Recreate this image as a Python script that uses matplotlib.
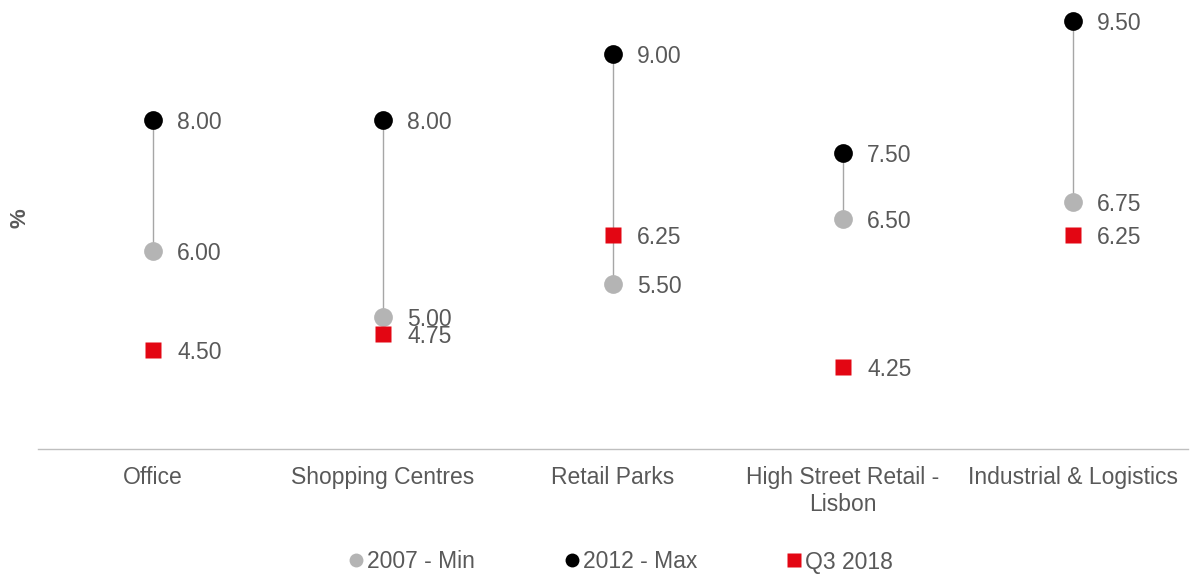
import matplotlib
matplotlib.use("Agg")
import matplotlib.pyplot as plt
from matplotlib.lines import Line2D
from matplotlib.transforms import offset_copy

categories = ["Office", "Shopping Centres", "Retail Parks", "High Street Retail -\nLisbon", "Industrial & Logistics"]
min_2007 = [6.00, 5.00, 5.50, 6.50, 6.75]
max_2012 = [8.00, 8.00, 9.00, 7.50, 9.50]
q3_2018 = [4.50, 4.75, 6.25, 4.25, 6.25]
series_names = ["2007 - Min", "2012 - Max", "Q3 2018"]

plt.rcParams['font.family'] = ['Liberation Sans', 'DejaVu Sans']
TXT = "#595959"
GRAY = "#b4b4b4"
RED = "#e30613"

W, H = 1194, 575
fig = plt.figure(figsize=(W / 100, H / 100), dpi=100)
ymin, ymax = 3.0, 9.8
ax = fig.add_axes([38 / W, (H - 449) / H, (1188 - 38) / W, (449 - 1.2) / H])
ax.set_xlim(-0.5, len(categories) - 0.5)
ax.set_ylim(ymin, ymax)

x = list(range(len(categories)))
for i in x:
    ax.plot([i, i], [min_2007[i], max_2012[i]], color="#a6a6a6", lw=1, zorder=1)

ax.plot(x, min_2007, 'o', color=GRAY, ms=13.5, mec='none', zorder=2)
ax.plot(x, max_2012, 'o', color='black', ms=13.5, mec='none', zorder=3)
ax.plot(x, q3_2018, 's', color=RED, ms=11.5, mec='none', zorder=4)

tr = offset_copy(ax.transData, fig=fig, x=24, y=0, units='dots')
for series in (min_2007, max_2012, q3_2018):
    for i, v in zip(x, series):
        ax.text(i, v, f"{v:.2f}", transform=tr, ha='left', va='center_baseline',
                fontsize=16.5, color=TXT, zorder=5)

for s in ['top', 'right', 'left']:
    ax.spines[s].set_visible(False)
ax.spines['bottom'].set_color('#bfbfbf')
ax.spines['bottom'].set_linewidth(1)
ax.set_yticks([])
ax.set_xticks(x)
ax.set_xticklabels(categories, fontsize=16.5, color=TXT, linespacing=1.25)
ax.tick_params(axis='x', length=0, pad=12)

fig.text(20 / W, 1 - 218 / H, "%", rotation=90, ha='center', va='center',
         fontsize=16, fontweight='bold', color=TXT)

handles = [
    Line2D([], [], marker='o', ls='none', color=GRAY, mec='none', ms=10),
    Line2D([], [], marker='o', ls='none', color='black', mec='none', ms=10),
    Line2D([], [], marker='s', ls='none', color=RED, mec='none', ms=10),
]
leg = fig.legend(handles, series_names, ncol=3, loc='center',
                 bbox_to_anchor=(621 / W, 1 - 562 / H), frameon=False,
                 fontsize=16.5, handlelength=0.6, handletextpad=0.2,
                 columnspacing=3.9, borderaxespad=0)
for t in leg.get_texts():
    t.set_color(TXT)

fig.savefig("out.png", dpi=100)
